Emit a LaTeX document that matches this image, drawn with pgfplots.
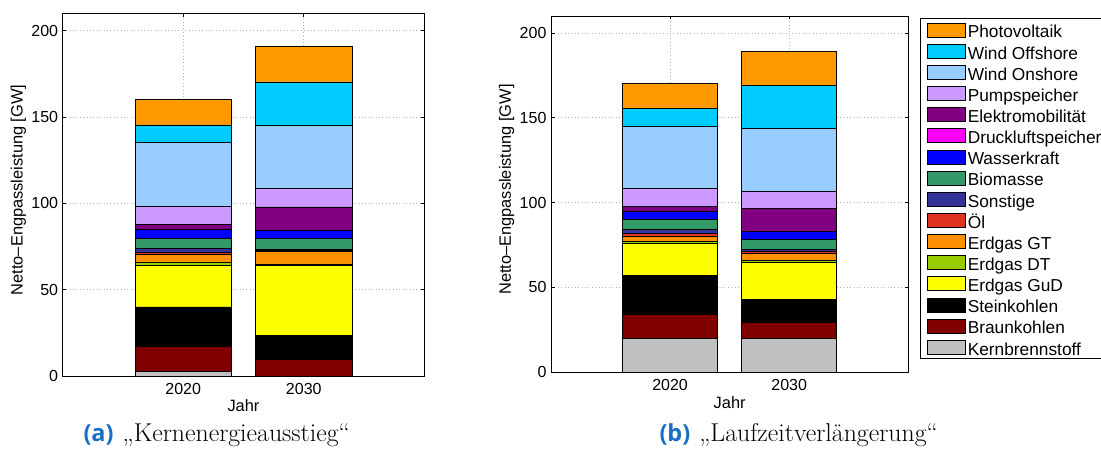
\documentclass[border=0pt]{standalone}
\usepackage{fontspec}
\usepackage{pgfplots}
\pgfplotsset{compat=1.18}
\newfontfamily\chartfont{Liberation Sans}
\newfontfamily\capfont{Open Sans}

% Colours of the generation technologies
\definecolor{cPV}{RGB}{255,153,0}
\definecolor{cOff}{RGB}{0,204,255}
\definecolor{cOn}{RGB}{153,204,255}
\definecolor{cPump}{RGB}{204,153,255}
\definecolor{cElek}{RGB}{128,0,128}
\definecolor{cDruck}{RGB}{255,0,255}
\definecolor{cWasser}{RGB}{0,0,255}
\definecolor{cBio}{RGB}{51,153,102}
\definecolor{cSonst}{RGB}{51,51,153}
\definecolor{cOel}{RGB}{222,51,34}
\definecolor{cGT}{RGB}{255,144,0}
\definecolor{cDT}{RGB}{153,204,0}
\definecolor{cGuD}{RGB}{255,255,0}
\definecolor{cStein}{RGB}{0,0,0}
\definecolor{cBraun}{RGB}{128,0,0}
\definecolor{cKern}{RGB}{192,192,192}
\definecolor{capblue}{RGB}{25,110,200}

\pgfplotsset{
  kraftwerk/.style={
    scale only axis,
    ybar stacked,
    bar width=0.8,
    xmin=0, xmax=3,
    ymin=0, ymax=210,
    xtick={1,2}, xticklabels={2020,2030},
    ytick={0,50,100,150,200},
    xtick pos=both, ytick pos=both,
    tick align=inside,
    major tick length=3.5pt,
    every tick/.style={black, line width=0.6pt},
    axis line style={line width=0.9pt},
    xmajorgrids, ymajorgrids,
    grid style={gray!60, line width=0.7pt, dash pattern=on 0.8pt off 2.6pt},
    /pgf/number format/assume math mode=true,
    tick label style={font=\chartfont\fontsize{16}{19}\selectfont},
    yticklabel style={inner sep=0pt, anchor=east, xshift=-4.4pt},
    xticklabel style={inner sep=0pt, anchor=north, yshift=-7pt},
    label style={font=\chartfont\fontsize{16.4}{19}\selectfont},
    ylabel={Netto–Engpassleistung [GW]},
    xlabel={Jahr},
    every axis plot/.append style={draw=black, line width=0.7pt},
  }
}

\begin{document}
\begin{tikzpicture}
\useasboundingbox (0,0) rectangle (1101pt,455pt);

% Szenario "Kernenergieausstieg"
\begin{axis}[kraftwerk,
  at={(62.7pt,79pt)}, anchor=south west,
  width=361.6pt, height=362.7pt,
  ylabel style={at={(axis description cs:-0.1228,0.513)}, anchor=center},
  xlabel style={at={(axis description cs:0.5,0)}, anchor=base, yshift=-36pt},
]
\addplot[fill=cKern]   coordinates {(1,2.7)  (2,0)};
\addplot[fill=cBraun]  coordinates {(1,14.2) (2,9.5)};
\addplot[fill=cStein]  coordinates {(1,23.1) (2,13.8)};
\addplot[fill=cGuD]    coordinates {(1,24.2) (2,40.5)};
\addplot[fill=cDT]     coordinates {(1,1.7)  (2,1.1)};
\addplot[fill=cGT]     coordinates {(1,4.3)  (2,7.1)};
\addplot[fill=cOel]    coordinates {(1,1.5)  (2,0.5)};
\addplot[fill=cSonst]  coordinates {(1,2.4)  (2,1.0)};
\addplot[fill=cBio]    coordinates {(1,5.6)  (2,6.2)};
\addplot[fill=cWasser] coordinates {(1,5.0)  (2,4.4)};
\addplot[fill=cDruck]  coordinates {(1,0.3)  (2,0.3)};
\addplot[fill=cElek]   coordinates {(1,2.8)  (2,13.5)};
\addplot[fill=cPump]   coordinates {(1,10.5) (2,10.5)};
\addplot[fill=cOn]     coordinates {(1,36.8) (2,36.6)};
\addplot[fill=cOff]    coordinates {(1,10.3) (2,25.3)};
\addplot[fill=cPV]     coordinates {(1,14.7) (2,20.6)};
\end{axis}

% Szenario "Laufzeitverlaengerung"
\begin{axis}[kraftwerk,
  at={(551pt,82.7pt)}, anchor=south west,
  width=357.3pt, height=356.3pt,
  ylabel style={at={(axis description cs:-0.1243,0.513)}, anchor=center},
  xlabel style={at={(axis description cs:0.5,0)}, anchor=base, yshift=-36pt},
  reverse legend,
  legend cell align=left,
  legend image code/.code={\draw[#1, draw=black, line width=0.8pt] (0pt,-7pt) rectangle (38pt,7pt);},
  legend style={
    at={(1.0327,0.993)}, anchor=north west,
    draw=black, line width=0.8pt, outer sep=0pt,
    inner xsep=7pt, inner ysep=1pt,
    font=\chartfont\fontsize{17.3}{20}\selectfont,
    row sep=0pt,
    nodes={inner xsep=0pt, inner ysep=0pt, text height=18.4pt, text depth=2.75pt},
    /tikz/every odd column/.append style={column sep=2pt},
    /tikz/every even column/.append style={column sep=3pt},
  },
]
\addplot[fill=cKern]   coordinates {(1,20.2) (2,20.2)};
\addplot[fill=cBraun]  coordinates {(1,13.8) (2,9.3)};
\addplot[fill=cStein]  coordinates {(1,23.2) (2,13.4)};
\addplot[fill=cGuD]    coordinates {(1,18.7) (2,21.7)};
\addplot[fill=cDT]     coordinates {(1,1.4)  (2,1.1)};
\addplot[fill=cGT]     coordinates {(1,3.1)  (2,4.5)};
\addplot[fill=cOel]    coordinates {(1,1.6)  (2,0.8)};
\addplot[fill=cSonst]  coordinates {(1,2.2)  (2,1.4)};
\addplot[fill=cBio]    coordinates {(1,5.9)  (2,5.7)};
\addplot[fill=cWasser] coordinates {(1,4.6)  (2,4.9)};
\addplot[fill=cDruck]  coordinates {(1,0.3)  (2,0.3)};
\addplot[fill=cElek]   coordinates {(1,2.9)  (2,13.1)};
\addplot[fill=cPump]   coordinates {(1,10.5) (2,10.4)};
\addplot[fill=cOn]     coordinates {(1,36.7) (2,36.9)};
\addplot[fill=cOff]    coordinates {(1,10.5) (2,25.2)};
\addplot[fill=cPV]     coordinates {(1,14.5) (2,20.2)};
\legend{Kernbrennstoff, Braunkohlen, Steinkohlen, Erdgas GuD, Erdgas DT,
  Erdgas GT, Öl, Sonstige, Biomasse, Wasserkraft, Druckluftspeicher,
  Elektromobilität, Pumpspeicher, Wind Onshore, Wind Offshore, Photovoltaik}
\end{axis}

% Unterschriften
\node[anchor=base west, inner sep=0pt] at (83.3pt,13.3pt)
  {{\capfont\bfseries\fontsize{23.5}{28}\selectfont\color{capblue}(a)}\hspace{9pt}{\fontsize{25.8}{30}\selectfont „Kernenergieausstieg“}};
\node[anchor=base west, inner sep=0pt] at (659.3pt,13.3pt)
  {{\capfont\bfseries\fontsize{23.5}{28}\selectfont\color{capblue}(b)}\hspace{9pt}{\fontsize{25.8}{30}\selectfont „Laufzeitverlängerung“}};
\end{tikzpicture}
\end{document}
